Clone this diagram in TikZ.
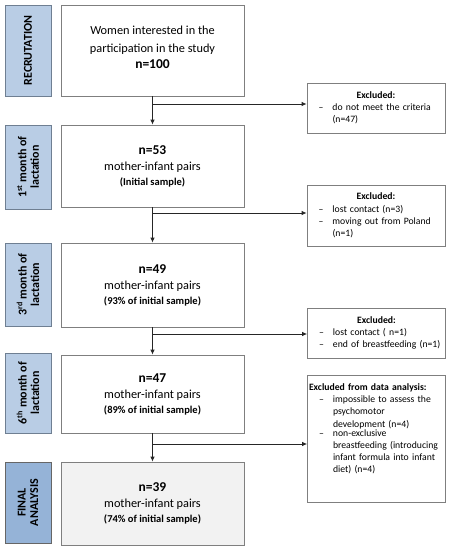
\documentclass[tikz,border=0pt]{standalone}
\usepackage{fontspec}
\setmainfont{Carlito}
\usetikzlibrary{arrows.meta,calc}
\definecolor{lblue}{HTML}{B9CDE5}
\definecolor{dblue}{HTML}{95B3D7}
\definecolor{bordgray}{HTML}{7F7F7F}
\definecolor{lblborder}{HTML}{6F7F92}
\definecolor{lgray}{HTML}{F2F2F2}
\newcommand\exi[1]{\par\noindent\makebox[24pt][l]{\hspace{10pt}–}\parbox[t]{140pt}{\raggedright #1}}
\begin{document}
\begin{tikzpicture}[x=1pt,y=-1pt,
  mainbox/.style={draw=bordgray, line width=0.8pt, fill=white, minimum width=183pt, align=center, inner sep=2pt,
    font=\fontsize{12.3}{16}\selectfont},
  lblbox/.style={draw=lblborder, line width=0.8pt, fill=lblue, rotate=90, minimum height=46pt, align=center, inner sep=1pt,
    font=\bfseries\fontsize{12}{12.5}\selectfont},
  exbox/.style={draw=bordgray, line width=0.8pt, fill=white, minimum width=138pt, text width=135pt, inner xsep=1.5pt, inner ysep=2pt,
    align=left, font=\fontsize{9.7}{12.2}\selectfont},
  arr/.style={line width=0.8pt, draw=black!85, -{Latex[length=5pt,width=4.5pt]}},
]
\useasboundingbox (0,0) rectangle (454,550);

% left labels
\node[lblbox, minimum width=91pt] (l1) at (28,50.5) {RECRUTATION};
\node[lblbox, minimum width=84pt] (l2) at (28,167) {1\textsuperscript{st} month of\\lactation};
\node[lblbox, minimum width=83pt] (l3) at (28,284.5) {3\textsuperscript{rd} month of\\lactation};
\node[lblbox, minimum width=80pt] (l4) at (28,393) {6\textsuperscript{th} month of\\lactation};
\node[lblbox, minimum width=81pt, fill=dblue, draw=black!60] (l5) at (28,502.5) {FINAL\\ANALYSIS};

% main boxes
\node[mainbox, minimum height=91pt] (m1) at (152.5,50.5)
  {Women interested in the\\[2pt]participation in the study\\{\bfseries\fontsize{13.5}{16}\selectfont n=100}\\[-9pt]};
\node[mainbox, minimum height=82pt] (m2) at (152.5,166)
  {{\bfseries\fontsize{13.5}{16}\selectfont n=53}\\mother-infant pairs\\[-1pt]{\bfseries\fontsize{10.5}{15}\selectfont (Initial sample)}};
\node[mainbox, minimum height=84pt] (m3) at (152.5,285)
  {{\bfseries\fontsize{13.5}{16}\selectfont n=49}\\mother-infant pairs\\[-1pt]{\bfseries\fontsize{10.5}{15}\selectfont (93\% of initial sample)}};
\node[mainbox, minimum height=78pt] (m4) at (152.5,394)
  {{\bfseries\fontsize{13.5}{16}\selectfont n=47}\\mother-infant pairs\\[-1pt]{\bfseries\fontsize{10.5}{15}\selectfont (89\% of initial sample)}};
\node[mainbox, minimum height=83pt, fill=lgray] (m5) at (152.5,503.5)
  {{\bfseries\fontsize{13.5}{16}\selectfont n=39}\\mother-infant pairs\\[-1pt]{\bfseries\fontsize{10.5}{15}\selectfont (74\% of initial sample)}};

% excluded boxes
\node[exbox, minimum height=50pt] (e1) at (376,108)
  {{\centering\bfseries Excluded:\par}\exi{do not meet the criteria\\(n=47)}};
\node[exbox, minimum height=61pt] (e2) at (376,215.5)
  {{\centering\bfseries Excluded:\par}\exi{lost contact (n=3)}\exi{moving out from Poland\\(n=1)}};
\node[exbox, minimum height=50pt] (e3) at (376.5,333)
  {{\centering\bfseries Excluded:\par}\exi{lost contact ( n=1)}\exi{end of breastfeeding (n=1)}};
\node[exbox, minimum height=127pt] (e4) at (376.5,438.5)
  {{\bfseries Excluded from data analysis:\par}\exi{impossible to assess\ the\\psychomotor\\development (n=4)}\exi{non-exclusive\\breastfeeding (introducing\\infant formula into infant\\diet) (n=4)}\par\noindent\rule{0pt}{18pt}};

% vertical connectors
\draw[arr] (m1.south) -- (m2.north);
\draw[arr] (m2.south) -- (m3.north);
\draw[arr] (m3.south) -- (m4.north);
\draw[arr] (m4.south) -- (m5.north);

% branches
\coordinate (b1) at (152.5,104);
\coordinate (b2) at (152.5,213);
\coordinate (b3) at (152.5,334);
\coordinate (b4) at (152.5,444);
\draw[arr] (b1) -- (b1 -| e1.west);
\draw[arr] (b2) -- (b2 -| e2.west);
\draw[arr] (b3) -- (b3 -| e3.west);
\draw[arr] (b4) -- (b4 -| e4.west);
\end{tikzpicture}
\end{document}
